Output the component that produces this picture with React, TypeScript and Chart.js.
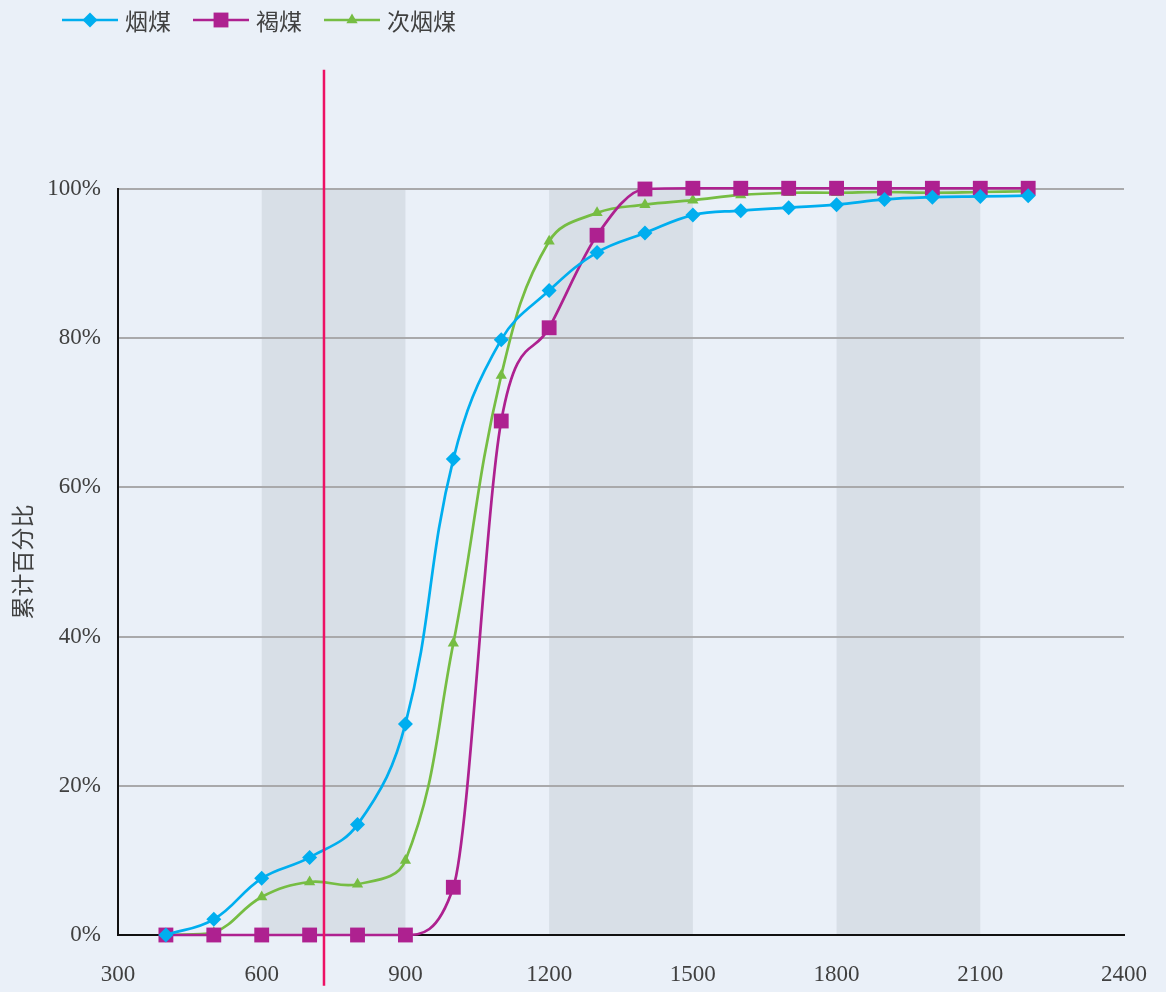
import React, { useEffect, useRef } from "react";
import { Chart, registerables } from "chart.js";

Chart.register(...registerables);

// ---------- data ----------
const xValues = [400, 500, 600, 700, 800, 900, 1000, 1100, 1200, 1300, 1400, 1500, 1600, 1700, 1800, 1900, 2000, 2100, 2200];
const bituminous = [0, 2.1, 7.6, 10.4, 14.8, 28.3, 63.8, 79.8, 86.4, 91.5, 94.1, 96.5, 97.1, 97.5, 97.9, 98.6, 98.9, 99.0, 99.1];
const lignite = [0, 0, 0, 0, 0, 0, 6.4, 68.9, 81.4, 93.8, 100.0, 100.1, 100.1, 100.1, 100.1, 100.1, 100.1, 100.1, 100.1];
const subBituminous = [0, 0.3, 5.1, 7.1, 6.8, 10.0, 39.1, 75.0, 93.0, 96.8, 97.9, 98.5, 99.2, 99.5, 99.5, 99.6, 99.5, 99.6, 99.7];
const seriesNames = ["烟煤", "褐煤", "次烟煤"];
const xMin = 300;
const xMax = 2400;
const xStep = 300;
const yMin = 0;
const yMax = 100;
const yStep = 20;
const yTitle = "累计百分比";
const shadedBands: [number, number][] = [[600, 900], [1200, 1500], [1800, 2100]];
const refLineX = 730;
const refLineYRange: [number, number] = [-6.8, 116];

// ---------- styles ----------
const BG = "#EAF0F8";
const BAND = "#D8DFE7";
const GRID = "#A9A9AB";
const TEXT = "#404040";
const COLORS = ["#00AEEF", "#AE2190", "#76BD43"];
const POINT_STYLES = ["rectRot", "rect", "triangle"];
const POINT_RADII = [7.5, 10.5, 6.5];
const INTERP = ["default", "monotone", "default"];
const SERIF = "'Liberation Serif', 'Times New Roman', serif";
const CJK = "'Noto Sans CJK SC', 'Noto Sans', sans-serif";

const bgPlugin = {
  id: "bgBands",
  beforeDraw(chart: any) {
    const { ctx, scales } = chart;
    ctx.save();
    ctx.fillStyle = BG;
    ctx.fillRect(0, 0, chart.width, chart.height);
    const xs = scales.x;
    const ys = scales.y;
    ctx.fillStyle = BAND;
    for (const [a, b] of shadedBands) {
      const x1 = xs.getPixelForValue(a);
      const x2 = xs.getPixelForValue(b);
      const y1 = ys.getPixelForValue(yMax);
      const y2 = ys.getPixelForValue(yMin);
      ctx.fillRect(x1, y1, x2 - x1, y2 - y1);
    }
    ctx.restore();
  },
};

const refPlugin = {
  id: "refLineLegend",
  afterDraw(chart: any) {
    const { ctx, scales } = chart;
    const xs = scales.x;
    const ys = scales.y;
    ctx.save();
    // reference line
    const px = xs.getPixelForValue(refLineX);
    ctx.strokeStyle = "#ED1164";
    ctx.lineWidth = 2.5;
    ctx.beginPath();
    ctx.moveTo(px, ys.getPixelForValue(refLineYRange[1]));
    ctx.lineTo(px, ys.getPixelForValue(refLineYRange[0]));
    ctx.stroke();

    // legend
    ctx.font = `23px ${CJK}`;
    ctx.textBaseline = "middle";
    let x = 62;
    const y = 20;
    seriesNames.forEach((name, i) => {
      ctx.strokeStyle = COLORS[i];
      ctx.lineWidth = 2.5;
      ctx.beginPath();
      ctx.moveTo(x, y);
      ctx.lineTo(x + 56, y);
      ctx.stroke();
      ctx.fillStyle = COLORS[i];
      const cx = x + 28;
      const r = POINT_RADII[i];
      ctx.beginPath();
      if (i === 0) {
        ctx.moveTo(cx, y - r);
        ctx.lineTo(cx + r, y);
        ctx.lineTo(cx, y + r);
        ctx.lineTo(cx - r, y);
        ctx.closePath();
      } else if (i === 1) {
        const s = r * Math.SQRT1_2;
        ctx.rect(cx - s, y - s, 2 * s, 2 * s);
      } else {
        ctx.moveTo(cx, y - r);
        ctx.lineTo(cx + r * 0.866, y + r * 0.5);
        ctx.lineTo(cx - r * 0.866, y + r * 0.5);
        ctx.closePath();
      }
      ctx.fill();
      ctx.fillStyle = TEXT;
      ctx.textAlign = "left";
      ctx.fillText(name, x + 63, y + 1);
      x += 63 + ctx.measureText(name).width + 22;
    });
    ctx.restore();
  },
};

export default function App() {
  const ref = useRef<HTMLCanvasElement | null>(null);
  useEffect(() => {
    if (!ref.current) return;
    const seriesData = [bituminous, lignite, subBituminous];
    const chart = new Chart(ref.current, {
      type: "line",
      data: {
        datasets: seriesData.map((vals, i) => ({
          label: seriesNames[i],
          data: xValues.map((x, k) => ({ x, y: vals[k] })),
          borderColor: COLORS[i],
          backgroundColor: COLORS[i],
          borderWidth: 2.7,
          tension: 0.4,
          cubicInterpolationMode: INTERP[i] as any,
          pointStyle: POINT_STYLES[i] as any,
          pointRadius: POINT_RADII[i],
          pointHoverRadius: POINT_RADII[i],
          pointBorderWidth: 0,
          pointBackgroundColor: COLORS[i],
          fill: false,
          clip: false as any,
        })),
      },
      options: {
        animation: false,
        responsive: false,
        events: [],
        layout: { padding: { top: 189, right: 42, left: 0, bottom: 0 } },
        plugins: {
          legend: { display: false },
          tooltip: { enabled: false },
        },
        scales: {
          x: {
            type: "linear",
            min: xMin,
            max: xMax,
            ticks: {
              stepSize: xStep,
              color: TEXT,
              font: { family: SERIF, size: 23 },
              padding: 26,
              maxRotation: 0,
              callback: (v: any) => `${v}`,
            },
            grid: { display: false, drawTicks: false },
            border: { display: true, color: "#111", width: 2 },
            afterFit: (s: any) => {
              s.height = 57;
              s.paddingLeft = 0;
              s.paddingRight = 0;
            },
          },
          y: {
            min: yMin,
            max: yMax,
            ticks: {
              stepSize: yStep,
              color: TEXT,
              font: { family: SERIF, size: 23 },
              padding: 17,
              callback: (v: any) => `${v}%`,
            },
            grid: { color: GRID, lineWidth: 2, drawTicks: false },
            border: { display: true, color: "#111", width: 2 },
            title: {
              display: true,
              text: yTitle,
              color: TEXT,
              font: { family: CJK, size: 23 },
              padding: { top: 8, bottom: 0 },
            },
            afterFit: (s: any) => {
              s.width = 118;
              s.paddingTop = 0;
              s.paddingBottom = 0;
            },
          },
        },
      },
      plugins: [bgPlugin, refPlugin],
    });
    return () => chart.destroy();
  }, []);
  return (
    <div style={{ position: "absolute", left: 0, top: 0, width: 1166, height: 992, background: BG }}>
      <canvas ref={ref} width={1166} height={992} style={{ width: 1166, height: 992, display: "block" }} />
    </div>
  );
}
